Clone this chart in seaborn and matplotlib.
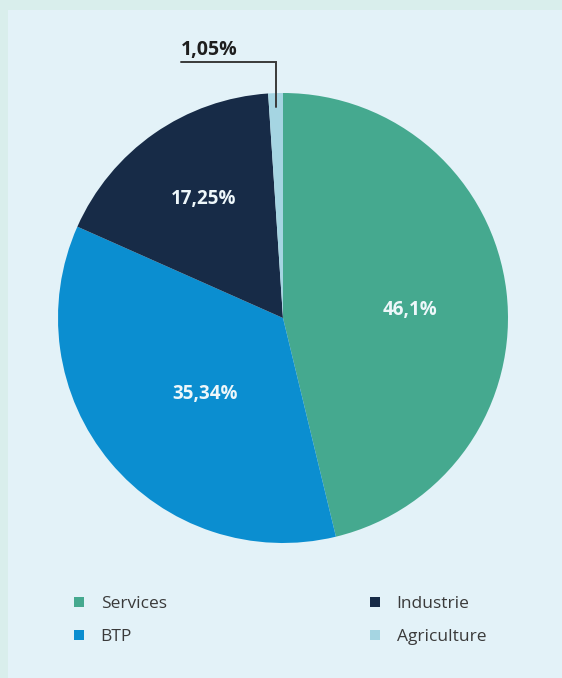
import numpy as np
import matplotlib
matplotlib.use("Agg")
import matplotlib.pyplot as plt
from matplotlib.lines import Line2D
from matplotlib.patches import Rectangle
import seaborn as sns

# Répartition par secteur d'activité
sectors = ["Services", "BTP", "Industrie", "Agriculture"]
shares = [46.1, 35.34, 17.25, 1.05]
share_labels = ["46,1%", "35,34%", "17,25%", "1,05%"]
colors = ["#45a98f", "#0b8ed0", "#172b47", "#a5d5e2"]

sns.set_theme(style="white")
plt.rcParams["font.family"] = ["Open Sans", "DejaVu Sans"]

W, H = 562, 678
fig = plt.figure(figsize=(W / 100, H / 100), dpi=100)
fig.patch.set_facecolor("#d9eeec")
fig.patches.append(Rectangle((8 / W, 0), 1, 1 - 10 / H, transform=fig.transFigure,
                             facecolor="#e3f2f8", edgecolor="none", zorder=-10))

# pie placed by its centre and radius in pixels
cx, cy, R = 283, 318, 225
ax = fig.add_axes([(cx - R) / W, (H - cy - R) / H, 2 * R / W, 2 * R / H])
wedges, _ = ax.pie(shares, colors=colors, startangle=90, counterclock=False,
                   wedgeprops=dict(linewidth=0))
ax.set_xlim(-1, 1)
ax.set_ylim(-1, 1)
ax.set_aspect("equal")
ax.axis("off")

# percentage labels inside the large slices (radius, angular nudge in degrees)
label_radius = [0.564, 0.485, 0.634]
label_nudge = [-3.0, 4.5, -1.2]
for w, txt, r, dt in zip(wedges[:3], share_labels[:3], label_radius, label_nudge):
    mid = np.deg2rad((w.theta1 + w.theta2) / 2 + dt)
    ax.text(r * np.cos(mid), r * np.sin(mid), txt, ha="center", va="center",
            color="#eef7fa", fontsize=13.5, fontweight="bold")

# leader line for the thin slice
w = wedges[3]
mid = np.deg2rad((w.theta1 + w.theta2) / 2)
x0, y0 = 0.94 * np.cos(mid), 0.94 * np.sin(mid)
y_line, x_left = 1.138, -0.455
ax.plot([x0, x0, x_left], [y0, y_line, y_line], color="#3a3a3a", lw=1.4,
        clip_on=False, solid_joinstyle="miter")
ax.text(x_left, y_line + 0.03, share_labels[3], ha="left", va="baseline",
        color="#1e1e1e", fontsize=14, fontweight="bold")

# legend in two columns
handles = [Line2D([], [], marker="s", linestyle="none", markersize=7.2,
                  markerfacecolor=c, markeredgewidth=0) for c in colors]
common = dict(loc="upper left", frameon=False, fontsize=12.5, borderpad=0,
              handlelength=0.6, handletextpad=0.95, labelspacing=1.0,
              labelcolor="#3a3a3a")
leg1 = fig.legend(handles[:2], sectors[:2], bbox_to_anchor=(65 / W, 1 - 587 / H), **common)
leg2 = fig.legend(handles[2:], sectors[2:], bbox_to_anchor=(361 / W, 1 - 587 / H), **common)

fig.savefig("out.png", dpi=100, facecolor=fig.get_facecolor())
